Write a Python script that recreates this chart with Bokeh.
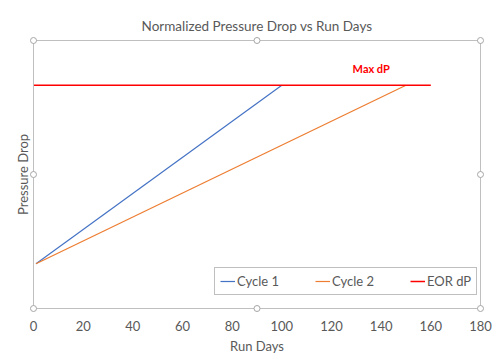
from bokeh.plotting import figure
from bokeh.models import Range1d, FixedTicker, Legend, LegendItem, Label
from bokeh.embed import file_html
from bokeh.resources import INLINE

# data
cycle1_days = [1, 100]
cycle1_dp = [0.2, 1.0]
cycle2_days = [1, 150]
cycle2_dp = [0.2, 1.0]
eor_days = [0, 160]
eor_dp = [1.0, 1.0]
x_ticks = [0, 20, 40, 60, 80, 100, 120, 140, 160, 180]
handle_x = [0, 90, 180, 0, 180, 0, 90, 180]
handle_y = [1.2, 1.2, 1.2, 0.6, 0.6, 0.0, 0.0, 0.0]

FONT = "Lato"
GREY = "#595959"

p = figure(width=492, height=358, output_backend="svg", toolbar_location=None,
           x_range=Range1d(0, 180), y_range=Range1d(0, 1.2),
           min_border_left=33, min_border_right=12, min_border_top=40, min_border_bottom=50)
p.frame_width = 447
p.frame_height = 268

p.title.text = "Normalized Pressure Drop vs Run Days"
p.title.align = "center"
p.title.text_font = FONT
p.title.text_font_size = "13.5px"
p.title.text_font_style = "normal"
p.title.text_color = GREY
p.title.standoff = 13

p.outline_line_color = "#bfbfbf"
p.xgrid.visible = False
p.ygrid.visible = False

p.xaxis.ticker = FixedTicker(ticks=x_ticks)
p.xaxis.major_tick_line_color = None
p.xaxis.minor_tick_line_color = None
p.xaxis.axis_line_color = "#bfbfbf"
p.xaxis.major_label_text_font = FONT
p.xaxis.major_label_text_font_size = "13px"
p.xaxis.major_label_text_color = GREY
p.xaxis.major_label_standoff = 6
p.xaxis.axis_label = "Run Days"
p.xaxis.axis_label_text_font = FONT
p.xaxis.axis_label_text_font_size = "13px"
p.xaxis.axis_label_text_font_style = "normal"
p.xaxis.axis_label_text_color = GREY
p.xaxis.axis_label_standoff = 4

p.yaxis.ticker = FixedTicker(ticks=[])
p.yaxis.major_tick_line_color = None
p.yaxis.minor_tick_line_color = None
p.yaxis.axis_line_color = "#bfbfbf"
p.yaxis.axis_label = "Pressure Drop"
p.yaxis.axis_label_text_font = FONT
p.yaxis.axis_label_text_font_size = "13px"
p.yaxis.axis_label_text_font_style = "normal"
p.yaxis.axis_label_text_color = GREY
p.yaxis.axis_label_standoff = 3

r1 = p.line(cycle1_days, cycle1_dp, line_color="#4472C4", line_width=1.2)
r2 = p.line(cycle2_days, cycle2_dp, line_color="#ED7D31", line_width=1.2)
r3 = p.line(eor_days, eor_dp, line_color="#FF0000", line_width=1.5)

lbl = Label(x=136, y=1.0, text="Max dP", text_color="#FF0000", text_font=FONT,
            text_font_style="bold", text_font_size="11px", text_align="center",
            text_baseline="bottom", y_offset=10)
p.add_layout(lbl)

h = p.scatter(handle_x, handle_y, size=6, marker="circle", fill_color="white",
              line_color="#a6a6a6", line_width=1, level="overlay")

legend = Legend(items=[LegendItem(label="Cycle 1", renderers=[r1]),
                       LegendItem(label="Cycle 2", renderers=[r2]),
                       LegendItem(label="EOR dP", renderers=[r3])],
                orientation="horizontal", location=(181, 13),
                border_line_color="#7f7f7f", label_text_font=FONT,
                label_text_font_size="13px", label_text_color=GREY,
                glyph_width=15, glyph_height=14, spacing=36, padding=5,
                margin=0, label_standoff=2, background_fill_alpha=1)
p.add_layout(legend)

open("out.html", "w").write(file_html(p, INLINE))
